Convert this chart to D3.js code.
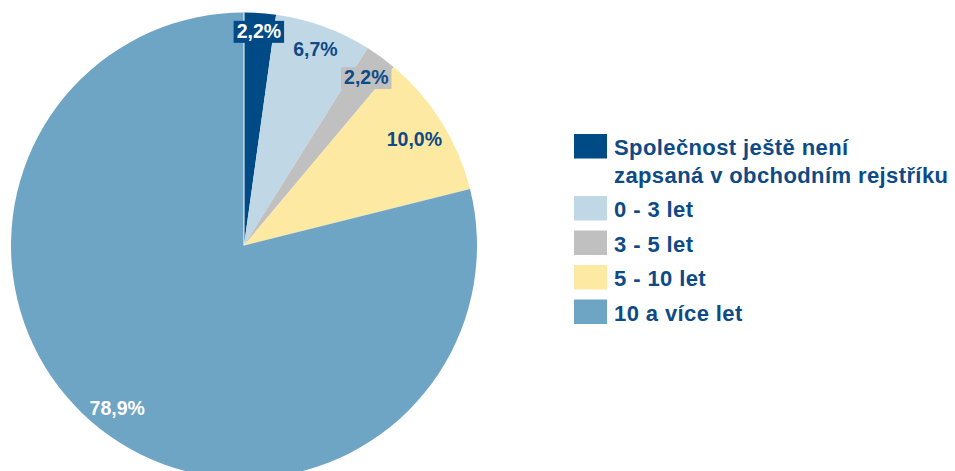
<!DOCTYPE html>
<html><head><meta charset="utf-8">
<script src="https://cdn.jsdelivr.net/npm/d3@7"></script>
<style>body{margin:0;background:#fff}svg{display:block}</style>
</head><body><svg id="c" width="955" height="471"></svg>
<script>
const categories = ["Společnost ještě není zapsaná v obchodním rejstříku", "0 - 3 let", "3 - 5 let", "5 - 10 let", "10 a více let"];
const legendLines = [["Společnost ještě není", "zapsaná v obchodním rejstříku"], ["0 - 3 let"], ["3 - 5 let"], ["5 - 10 let"], ["10 a více let"]];
const values = [2.2, 6.7, 2.2, 10.0, 78.9];
const labels = ["2,2%", "6,7%", "2,2%", "10,0%", "78,9%"];
const colors = ["#004a86", "#c0d8e6", "#c0c0c0", "#fde9a1", "#6ea5c5"];
const labelColors = ["#ffffff", "#0d4a86", "#0d4a86", "#0d4a86", "#ffffff"];
const labelBoxes = [true, false, true, false, false];
const labelRadii = [215, 209, 208, 201, 206];

const svg = d3.select("#c");
const font = "'Liberation Sans', Arial, sans-serif";
const cx = 244, cy = 245.5, R = 233;
const g = svg.append("g").attr("transform", `translate(${cx},${cy})`);
const pie = d3.pie().sort(null).value(d => d)(values);
const arc = d3.arc().innerRadius(0).outerRadius(R);
g.selectAll("path.s").data(pie).join("path").attr("class","s")
  .attr("d", arc).attr("fill", (d,i) => colors[i]);
g.append("line").attr("x1",0).attr("y1",0).attr("x2",0).attr("y2",-R).attr("stroke","#fff").attr("stroke-width",1);

pie.forEach((d,i) => {
  const la = d3.arc().innerRadius(labelRadii[i]).outerRadius(labelRadii[i]);
  const [x,y] = la.centroid(d);
  const t = g.append("text").attr("x",x).attr("y",y).attr("dy","0.35em")
    .attr("text-anchor","middle").attr("font-family",font).attr("font-weight","bold")
    .attr("font-size","19.5px").attr("fill",labelColors[i]).text(labels[i]);
  if (labelBoxes[i]) {
    const b = t.node().getBBox();
    g.insert("rect","text").attr("x",b.x-3).attr("y",b.y+1).attr("width",b.width+6).attr("height",b.height)
      .attr("fill",colors[i]);
  }
});

const lg = svg.append("g").attr("transform","translate(574,134)");
let yy = 0;
legendLines.forEach((lines,i) => {
  lg.append("rect").attr("x",0).attr("y",yy).attr("width",33).attr("height",24.5).attr("fill",colors[i]);
  lines.forEach((ln,j) => {
    lg.append("text").attr("x",40).attr("y",yy+21 + j*28).attr("font-family",font).attr("font-weight","bold")
      .attr("font-size","22px").attr("letter-spacing","0.4px").attr("fill","#0d4a86").text(ln);
  });
  yy += 34.5 + (lines.length-1)*27.5;
});
</script></body></html>
